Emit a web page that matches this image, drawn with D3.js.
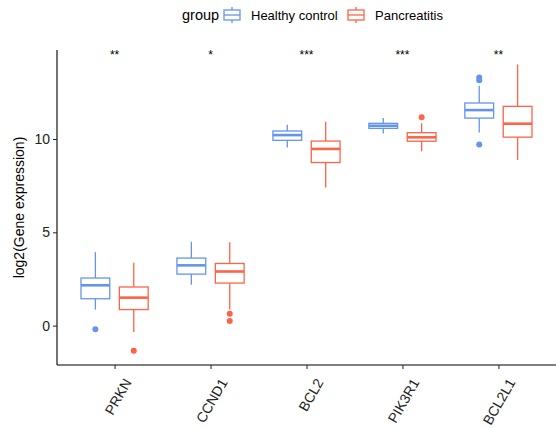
<!DOCTYPE html>
<html>
<head>
<meta charset="utf-8">
<script src="https://cdn.jsdelivr.net/npm/d3@7"></script>
<style>
  body { margin: 0; background: #fff; }
  text { font-family: "Liberation Sans", Arial, sans-serif; }
</style>
</head>
<body>
<script>
const width = 556;
const height = 429;

// genes on the x axis
const genes = ["PRKN", "CCND1", "BCL2", "PIK3R1", "BCL2L1"];
const groups = ["Healthy control", "Pancreatitis"];
const colors = ["#6495ED", "#FF6347"];
const stars = ["**", "*", "***", "***", "**"];

// [lower whisker, Q1, median, Q3, upper whisker] per gene
const healthyStats = [
  [0.86, 1.44, 2.16, 2.55, 3.94],
  [2.19, 2.76, 3.23, 3.62, 4.50],
  [9.54, 9.93, 10.21, 10.43, 10.77],
  [10.30, 10.57, 10.71, 10.84, 11.12],
  [10.35, 11.12, 11.55, 11.93, 12.86]
];
const pancStats = [
  [-0.34, 0.86, 1.50, 2.07, 3.37],
  [0.86, 2.28, 2.90, 3.33, 4.47],
  [7.40, 8.74, 9.47, 9.89, 10.93],
  [9.34, 9.88, 10.09, 10.34, 10.84],
  [8.88, 10.10, 10.82, 11.75, 14.00]
];
// outliers per gene
const healthyOut = [[-0.2], [], [], [], [13.15, 13.3, 9.7]];
const pancOut = [[-1.34], [0.64, 0.25], [], [11.16], []];

const yTicks = [0, 5, 10];

const svg = d3.select("body")
  .append("svg")
  .attr("width", width)
  .attr("height", height);

const margin = {top: 50, right: 0, bottom: 64, left: 57};

const x = d3.scalePoint()
  .domain(genes)
  .range([margin.left, width - margin.right])
  .padding(0.6);
const step = x.step();

const y = d3.scaleLinear()
  .domain([-2.11, 14.77])
  .range([height - margin.bottom, margin.top]);

const boxW = step * 0.3;
const offsets = [-0.2 * step, 0.2 * step];

// boxes
const series = [healthyStats, pancStats];
const outs = [healthyOut, pancOut];
series.forEach((stats, gi) => {
  const g = svg.append("g")
    .attr("stroke", colors[gi])
    .attr("fill", "none");
  stats.forEach((s, i) => {
    const cx = x(genes[i]) + offsets[gi];
    g.append("line")
      .attr("x1", cx).attr("x2", cx)
      .attr("y1", y(s[4])).attr("y2", y(s[3]))
      .attr("stroke-width", 1.3);
    g.append("line")
      .attr("x1", cx).attr("x2", cx)
      .attr("y1", y(s[1])).attr("y2", y(s[0]))
      .attr("stroke-width", 1.3);
    g.append("rect")
      .attr("x", cx - boxW / 2)
      .attr("y", y(s[3]))
      .attr("width", boxW)
      .attr("height", y(s[1]) - y(s[3]))
      .attr("fill", "#fff")
      .attr("stroke-width", 1.3);
    g.append("line")
      .attr("x1", cx - boxW / 2).attr("x2", cx + boxW / 2)
      .attr("y1", y(s[2])).attr("y2", y(s[2]))
      .attr("stroke-width", 2.6);
    outs[gi][i].forEach(v => {
      svg.append("circle")
        .attr("cx", cx).attr("cy", y(v))
        .attr("r", 3)
        .attr("fill", colors[gi]);
    });
  });
});

// significance stars
svg.selectAll(".star").data(genes)
  .enter().append("text")
  .attr("x", d => x(d))
  .attr("y", y(14.5) + 4)
  .attr("text-anchor", "middle")
  .attr("font-size", 12)
  .attr("fill", "#000")
  .text((d, i) => stars[i]);

// axes
const yAxis = svg.append("g")
  .attr("transform", `translate(${margin.left},0)`)
  .call(d3.axisLeft(y).tickValues(yTicks).tickSize(4).tickPadding(3));
yAxis.select(".domain").attr("stroke", "#000").attr("stroke-width", 1.1)
  .attr("d", `M0,${margin.top}V${height - margin.bottom}`);
yAxis.selectAll("text").attr("font-size", 14).attr("fill", "#222")
  .attr("font-family", "Liberation Sans, Arial, sans-serif");
yAxis.selectAll("line").attr("stroke", "#222");

const xAxis = svg.append("g")
  .attr("transform", `translate(0,${height - margin.bottom})`)
  .call(d3.axisBottom(x).tickSize(4).tickPadding(2));
xAxis.select(".domain").attr("stroke", "#000").attr("stroke-width", 1.1)
  .attr("d", `M${margin.left},0H${width}`);
xAxis.selectAll("line").attr("stroke", "#222");
xAxis.selectAll("text")
  .attr("font-size", 14)
  .attr("fill", "#222")
  .attr("font-family", "Liberation Sans, Arial, sans-serif")
  .attr("text-anchor", "end")
  .attr("dy", "0")
  .attr("transform", "translate(8,12) rotate(-60)")
  .attr("y", 0)
  .attr("x", 0)
  .attr("dx", "0")
  .attr("dominant-baseline", "hanging");

// y title
svg.append("text")
  .attr("transform", `translate(24,${(margin.top + height - margin.bottom) / 2}) rotate(-90)`)
  .attr("text-anchor", "middle")
  .attr("font-size", 14)
  .attr("fill", "#000")
  .text("log2(Gene expression)");

// legend
const legend = svg.append("g");
legend.append("text")
  .attr("x", 182).attr("y", 20)
  .attr("font-size", 14.5)
  .text("group");
const keyX = [223, 347];
const labX = [251, 375];
groups.forEach((gname, i) => {
  const k = legend.append("g")
    .attr("stroke", colors[i]).attr("fill", "none").attr("stroke-width", 1.3);
  const cx = keyX[i] + 9;
  k.append("line").attr("x1", cx).attr("x2", cx).attr("y1", 7).attr("y2", 23);
  k.append("rect").attr("x", keyX[i] + 1).attr("y", 10).attr("width", 16).attr("height", 10).attr("fill", "#fff");
  k.append("line").attr("x1", keyX[i] + 1).attr("x2", keyX[i] + 17).attr("y1", 15).attr("y2", 15);
  legend.append("text")
    .attr("x", labX[i]).attr("y", 20)
    .attr("font-size", 13)
    .text(gname);
});
</script>
</body>
</html>
